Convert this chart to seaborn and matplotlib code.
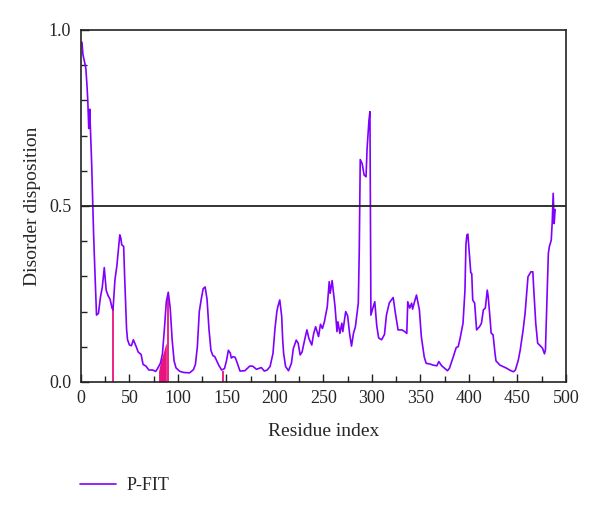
import matplotlib
matplotlib.use('Agg')
import matplotlib.pyplot as plt
from matplotlib.ticker import MultipleLocator, FixedLocator, FormatStrFormatter
from matplotlib.lines import Line2D
import seaborn as sns
import pandas as pd

# P-FIT disorder profile
residue = [1, 2, 4, 5, 6, 7, 8, 9, 10, 11, 12, 13, 14, 16, 18, 20, 22, 24, 26, 28,
           30, 32, 33, 35, 37, 39, 40, 41, 42, 44, 45, 47, 48, 50, 52, 54, 57, 59, 62, 64,
           67, 70, 74, 77, 79, 82, 84, 86, 88, 90, 92, 94, 96, 98, 102, 106, 112, 116, 118, 120,
           122, 124, 126, 128, 130, 132, 134, 136, 138, 140, 142, 145, 148, 150, 152, 154, 155, 157, 159, 161,
           164, 169, 174, 177, 181, 186, 189, 192, 195, 198, 200, 202, 203, 205, 207, 208, 209, 211, 214, 217,
           219, 222, 224, 226, 228, 231, 233, 235, 238, 240, 242, 245, 247, 249, 251, 254, 256, 257, 259, 262,
           264, 265, 267, 269, 270, 273, 275, 277, 279, 281, 283, 286, 287, 288, 290, 292, 294, 295, 297, 298,
           299, 301, 303, 305, 307, 310, 313, 315, 318, 322, 324, 327, 331, 334, 336, 337, 339, 341, 342, 344,
           346, 349, 351, 354, 356, 360, 363, 367, 369, 372, 375, 378, 380, 384, 387, 389, 391, 394, 396, 397,
           398, 399, 400, 402, 403, 404, 406, 408, 411, 413, 415, 417, 419, 420, 422, 423, 425, 427, 428, 432,
           435, 439, 442, 446, 448, 451, 453, 456, 458, 461, 464, 466, 467, 469, 471, 474, 476, 478, 479, 481,
           482, 483, 485, 486, 487, 488, 489]
score = [0.965, 0.93, 0.905, 0.89, 0.85, 0.80, 0.72, 0.775, 0.70, 0.62, 0.52, 0.42, 0.34, 0.19, 0.195, 0.24, 0.27, 0.325, 0.26, 0.245,
         0.235, 0.21, 0.205, 0.29, 0.33, 0.39, 0.418, 0.41, 0.39, 0.385, 0.30, 0.15, 0.12, 0.105, 0.103, 0.12, 0.10, 0.085, 0.078, 0.05,
         0.045, 0.034, 0.034, 0.03, 0.038, 0.054, 0.08, 0.15, 0.228, 0.255, 0.21, 0.12, 0.06, 0.04, 0.03, 0.027, 0.026, 0.035, 0.05, 0.10,
         0.20, 0.235, 0.265, 0.27, 0.235, 0.15, 0.09, 0.075, 0.072, 0.06, 0.048, 0.034, 0.038, 0.06, 0.09, 0.082, 0.068, 0.072, 0.07, 0.055,
         0.031, 0.032, 0.045, 0.045, 0.036, 0.041, 0.031, 0.034, 0.044, 0.081, 0.15, 0.20, 0.214, 0.233, 0.186, 0.12, 0.081, 0.044, 0.032, 0.053,
         0.095, 0.119, 0.11, 0.077, 0.085, 0.124, 0.148, 0.124, 0.105, 0.138, 0.157, 0.129, 0.164, 0.152, 0.171, 0.214, 0.285, 0.252, 0.288, 0.214,
         0.143, 0.171, 0.138, 0.167, 0.143, 0.20, 0.188, 0.138, 0.102, 0.138, 0.157, 0.224, 0.375, 0.632, 0.62, 0.588, 0.583, 0.66, 0.744, 0.768,
         0.19, 0.21, 0.228, 0.16, 0.125, 0.12, 0.135, 0.19, 0.225, 0.24, 0.20, 0.148, 0.148, 0.143, 0.138, 0.228, 0.21, 0.224, 0.207, 0.228,
         0.247, 0.205, 0.129, 0.071, 0.053, 0.051, 0.048, 0.046, 0.058, 0.046, 0.039, 0.032, 0.039, 0.072, 0.098, 0.10, 0.124, 0.167, 0.261, 0.39,
         0.418, 0.42, 0.384, 0.31, 0.308, 0.233, 0.224, 0.148, 0.157, 0.167, 0.205, 0.21, 0.261, 0.242, 0.176, 0.139, 0.134, 0.081, 0.06, 0.048,
         0.044, 0.039, 0.034, 0.029, 0.034, 0.062, 0.091, 0.148, 0.195, 0.299, 0.313, 0.313, 0.261, 0.167, 0.11, 0.102, 0.096, 0.08, 0.091, 0.28,
         0.365, 0.384, 0.403, 0.455, 0.536, 0.45, 0.49]

# pink marks (single residues drawn as stems, one short stretch drawn filled)
stem_residue = [33, 90, 146]
stem_height = [0.205, 0.25, 0.03]
patch_residue = [80, 81, 82, 83, 84, 85, 86, 87, 88]
patch_height = [0.03, 0.045, 0.055, 0.065, 0.075, 0.085, 0.095, 0.105, 0.11]

threshold = 0.5

df = pd.DataFrame({'Residue': residue, 'Score': score})

sns.set_style('ticks')
plt.rcParams['font.family'] = ['Liberation Serif', 'DejaVu Serif']

fig = plt.figure(figsize=(6, 5.05), dpi=100)
ax = fig.add_axes([0.135, 0.2436, 0.808, 0.697])

pink = '#e8137d'
purple = '#8000ff'

ax.fill_between(patch_residue, 0, patch_height, color=pink, lw=0)
ax.vlines(stem_residue, 0, stem_height, color=pink, lw=1.3)
sns.lineplot(data=df, x='Residue', y='Score', color=purple, lw=1.2, ax=ax, legend=False)
ax.axhline(threshold, color='#222222', lw=1.3)

ax.set_xlim(0, 500)
ax.set_ylim(0, 1.0)
ax.xaxis.set_major_locator(MultipleLocator(50))
ax.xaxis.set_minor_locator(MultipleLocator(25))
ax.yaxis.set_major_locator(FixedLocator([0.0, 0.5, 1.0]))
ax.yaxis.set_minor_locator(MultipleLocator(0.1))
ax.yaxis.set_major_formatter(FormatStrFormatter('%.1f'))
ax.tick_params(which='both', direction='in', top=False, right=False, color='#222222', width=1)
ax.tick_params(which='major', length=6, labelsize=13)
ax.tick_params(axis='x', which='major', pad=6)
ax.tick_params(axis='y', which='major', pad=7)
ax.tick_params(which='minor', length=4)
for s in ax.spines.values():
    s.set_color('#222222')
    s.set_linewidth(1.2)

ax.set_xlabel('Residue index', fontsize=14, labelpad=11)
ax.set_ylabel('Disorder disposition', fontsize=14, labelpad=6)

handle = Line2D([], [], color=purple, lw=1.2)
fig.legend([handle], ['P-FIT'], loc='center left', bbox_to_anchor=(0.133, 0.038),
           frameon=False, fontsize=13, handlelength=2.0, handletextpad=0.6,
           borderpad=0, borderaxespad=0)

fig.savefig('out.png', dpi=100)
